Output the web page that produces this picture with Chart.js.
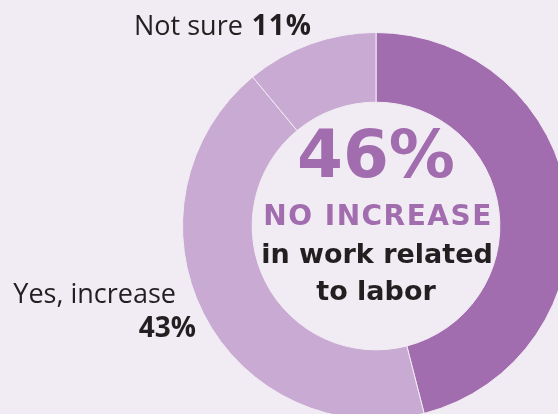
<!DOCTYPE html>
<html>
<head>
<meta charset="utf-8">
<script src="https://cdn.jsdelivr.net/npm/chart.js@4/dist/chart.umd.min.js"></script>
<style>
  html, body { margin: 0; padding: 0; overflow: hidden; background: #f1ebf3; }
  #wrap { position: relative; width: 600px; height: 440px; }
</style>
</head>
<body>
<div id="wrap"><canvas id="chart"></canvas></div>
<script>
// Survey answers, clockwise from 12 o'clock
var categories = ['No increase', 'Yes, increase', 'Not sure'];
var shares = [46, 43, 11];
var sliceColors = ['#a26daf', '#c8aad3', '#c8aad3'];

// Headline lines inside the hole
var centerLines = ['NO INCREASE', 'in work related', 'to labor'];

var LABEL_FONT = '"Open Sans", Lato, sans-serif';
var HEAD_FONT = '"DejaVu Sans", "Open Sans", sans-serif';
var DARK = '#231f20';
var PURPLE = '#a26daf';

// Draws the headline in the hole and the two outside callouts
var annotate = {
  id: 'annotate',
  afterDraw: function (chart) {
    var ctx = chart.ctx;
    var arc = chart.getDatasetMeta(0).data[0];
    var cx = arc.x;
    var cy = arc.y;

    ctx.save();
    ctx.textAlign = 'center';
    ctx.textBaseline = 'alphabetic';

    ctx.fillStyle = PURPLE;
    ctx.font = 'bold 66px ' + HEAD_FONT;
    ctx.fillText(shares[0] + '%', cx, cy - 49);

    // the all-caps line runs a little wider than the rest
    ctx.font = 'bold 28px ' + HEAD_FONT;
    ctx.letterSpacing = '1.5px';
    ctx.fillText(centerLines[0], cx + 2, cy - 1);
    ctx.letterSpacing = '0px';

    ctx.fillStyle = DARK;
    ctx.font = 'bold 27px ' + HEAD_FONT;
    ctx.fillText(centerLines[1], cx + 1, cy + 37);
    ctx.fillText(centerLines[2], cx, cy + 74);

    // "Not sure 11%" above the small slice
    ctx.textAlign = 'left';
    ctx.font = '27px ' + LABEL_FONT;
    var notSure = categories[2] + ' ';
    ctx.fillText(notSure, 134, 35);
    var w = ctx.measureText(notSure).width;
    ctx.font = 'bold 28px ' + LABEL_FONT;
    ctx.letterSpacing = '1px';
    ctx.fillText(shares[2] + '%', 136 + w, 35);
    ctx.letterSpacing = '0px';

    // "Yes, increase 43%" left of the ring
    ctx.textAlign = 'right';
    ctx.font = '27px ' + LABEL_FONT;
    ctx.fillText(categories[1], 176, 303);
    ctx.font = 'bold 28px ' + LABEL_FONT;
    ctx.fillText(shares[1] + '%', 196, 337);

    ctx.restore();
  }
};

new Chart(document.getElementById('chart'), {
  type: 'doughnut',
  data: {
    labels: categories,
    datasets: [
      {
        data: shares,
        backgroundColor: sliceColors,
        borderColor: '#f1ebf3',
        borderWidth: 1,
        hoverOffset: 0,
      },
    ],
  },
  options: {
    responsive: true,
    maintainAspectRatio: false,
    animation: false,
    cutout: '64%',
    layout: {
      padding: { left: 182, top: 32, right: 30, bottom: 20 },
    },
    plugins: {
      legend: { display: false },
      tooltip: { enabled: false },
    },
  },
  plugins: [annotate],
});
</script>
</body>
</html>
